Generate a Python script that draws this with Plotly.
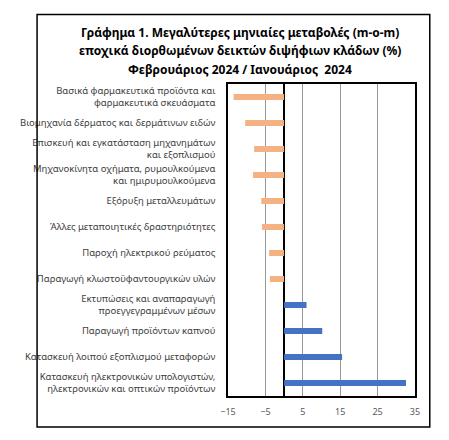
import plotly.graph_objects as go

categories = [
    "Βασικά φαρμακευτικά προϊόντα και<br>φαρμακευτικά σκευάσματα",
    "Βιομηχανία δέρματος και δερμάτινων ειδών",
    "Επισκευή και εγκατάσταση μηχανημάτων<br>και εξοπλισμού",
    "Μηχανοκίνητα οχήματα, ρυμουλκούμενα<br>και ημιρυμουλκούμενα",
    "Εξόρυξη μεταλλευμάτων",
    "Άλλες μεταποιητικές δραστηριότητες",
    "Παροχή ηλεκτρικού ρεύματος",
    "Παραγωγή κλωστοϋφαντουργικών υλών",
    "Εκτυπώσεις και αναπαραγωγή<br>προεγγεγραμμένων μέσων",
    "Παραγωγή προϊόντων καπνού",
    "Κατασκευή λοιπού εξοπλισμού μεταφορών",
    "Κατασκευή ηλεκτρονικών υπολογιστών,<br>ηλεκτρονικών και οπτικών προϊόντων",
]
values = [-13.5, -10.4, -8.0, -8.3, -6.1, -5.9, -4.0, -3.8, 6.0, 10.2, 15.5, 32.6]
tick_vals = [-15, -5, 5, 15, 25, 35]

title_lines = [
    "Γράφημα 1. Μεγαλύτερες μηνιαίες μεταβολές (m-o-m)",
    "εποχικά διορθωμένων δεικτών διψήφιων κλάδων (%)",
    "Φεβρουάριος 2024 / Ιανουάριος  2024",
]

colors = ["#F4B183" if v < 0 else "#4472C4" for v in values]

fig = go.Figure(
    go.Bar(
        x=values,
        y=categories,
        orientation="h",
        marker=dict(color=colors, line=dict(width=0)),
        width=0.23,
    )
)

# page body has an 8px margin, so the figure is sized to fill the rest
fig.update_layout(
    width=441,
    height=432,
    margin=dict(l=218, r=34, t=76, b=44),
    paper_bgcolor="white",
    plot_bgcolor="white",
    showlegend=False,
    font=dict(family="Noto Sans", color="#404040"),
)

fig.update_xaxes(
    range=[-15, 35],
    tickvals=tick_vals,
    ticks="",
    ticklabelstandoff=6,
    showgrid=True,
    gridcolor="#999999",
    gridwidth=1,
    zeroline=True,
    zerolinecolor="black",
    zerolinewidth=1.5,
    showline=True,
    linecolor="black",
    linewidth=1.5,
    mirror=True,
    tickfont=dict(size=9, color="#595959"),
)
fig.update_yaxes(
    autorange="reversed",
    showgrid=False,
    showline=True,
    linecolor="black",
    linewidth=1.5,
    mirror=True,
    ticks="",
    ticklabelstandoff=9,
    tickfont=dict(size=9.5, color="#404040"),
)

# outer frame
fig.add_shape(
    type="rect", xref="paper", yref="paper",
    x0=-1.021, x1=1.079, y0=-0.099, y1=1.223,
    line=dict(color="black", width=1.5),
)

for line, ypos in zip(title_lines, [1.1635, 1.1058, 1.048]):
    fig.add_annotation(
        xref="paper", yref="paper", x=0.0635, y=ypos,
        text=line,
        showarrow=False, xanchor="center", yanchor="middle",
        font=dict(size=12, color="black", family="Noto Sans", weight="bold"),
    )

fig.write_html("out.html")
